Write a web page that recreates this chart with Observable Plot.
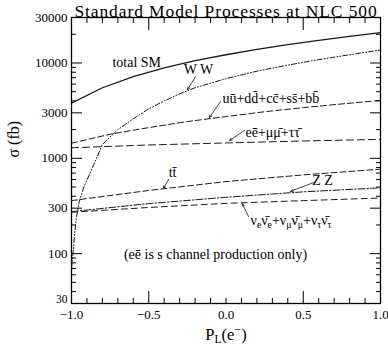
<!DOCTYPE html>
<html>
<head>
<meta charset="utf-8">
<script src="https://cdn.jsdelivr.net/npm/d3@7"></script>
<script src="https://cdn.jsdelivr.net/npm/@observablehq/plot@0.6"></script>
<style>
  html, body { margin: 0; padding: 0; background: #fff; }
</style>
</head>
<body>
<div id="chart"></div>
<script>
// ---------- text ----------
const titleText = "Standard Model Processes at NLC 500";
const yLabelText = "σ (fb)";
const xLabelPlain = "PL(e-)";

// ---------- ticks ----------
const yMajorTicks = [30, 100, 300, 1000, 3000, 10000, 30000];
const yMinorTicks = [40, 50, 60, 70, 80, 90, 200, 400, 500, 600, 700, 800, 900,
                     2000, 4000, 5000, 6000, 7000, 8000, 9000, 20000];
const xLabelTicks = [-1, -0.5, 0, 0.5, 1];
const xMajorTicks = [-0.5, 0.5];
const xMinorTicks = [-0.9, -0.8, -0.7, -0.6, -0.4, -0.3, -0.2, -0.1, 0, 0.1, 0.2, 0.3, 0.4, 0.6, 0.7, 0.8, 0.9];

// ---------- series (P_L(e-) , sigma in fb) ----------
const P_total = [-1, -0.8, -0.6, -0.4, -0.2, 0, 0.2, 0.4, 0.6, 0.8, 1];
const sigmaTotal = [3800, 5500, 7200, 8900, 10600, 12200, 13900, 15600, 17300, 19000, 20800];

const P_WW = [-1, -0.99, -0.98, -0.97, -0.95, -0.92, -0.88, -0.84, -0.8, -0.7, -0.6, -0.5, -0.4, -0.3, -0.2, 0, 0.2, 0.4, 0.6, 0.8, 1];
const sigmaWW = [70, 100, 160, 230, 350, 500, 700, 980, 1400, 2000, 2600, 3300, 4000, 4750, 5500, 6850, 8200, 9500, 10850, 12200, 13700];

const P_qq = [-1, -0.75, -0.5, -0.25, 0, 0.25, 0.5, 0.75, 1];
const sigmaQQ = [1440, 1790, 2100, 2430, 2740, 3080, 3400, 3720, 4050];

const P_few = [-1, -0.5, 0, 0.5, 1];
const sigmaLL = [1290, 1380, 1450, 1520, 1580];
const sigmaTT = [360, 460, 570, 670, 770];
const sigmaZZ = [276, 335, 390, 445, 490];
const sigmaNN = [272, 305, 337, 360, 383];

// ---------- annotations ----------
const qqLabel = "uū+dd\u0304+cc\u0304+ss\u0304+bb\u0304";
const llLabel = "ee\u0304+μμ\u0304+ττ\u0304";
const ttLabel = "tt\u0304";
const nuPlain = "NUNU";
const noteLabel = "(ee\u0304 is s channel production only)";

// labels written from their left end
const startText = ["total SM", qqLabel, llLabel, nuPlain];
const startP = [-0.735, -0.023, 0.126, 0.159];
const startSigma = [10100, 4240, 1860, 223];
// labels centred on their point
const midText = ["W W", ttLabel, "Z Z", noteLabel];
const midP = [-0.178, -0.346, 0.625, -0.068];
const midSigma = [8550, 711, 582, 97];

const arrowFromP = [-0.197, -0.036, 0.120, -0.372, 0.566, 0.146];
const arrowFromS = [7200, 3940, 1960, 600, 556, 245];
const arrowToP = [-0.249, -0.107, 0.023, -0.405, 0.418, 0.105];
const arrowToS = [5270, 2680, 1540, 484, 450, 334];

// ---------- build tables ----------
const tbl = (ps, ss) => ps.map((p, i) => ({P: p, s: ss[i]}));
const lbl = (ts, ps, ss) => ts.map((t, i) => ({t, P: ps[i], s: ss[i]}));
const arrows = arrowFromP.map((p, i) => ({x1: p, y1: arrowFromS[i], x2: arrowToP[i], y2: arrowToS[i]}));

const ink = "#1a1a1a";
const line = (ps, ss, dash, w = 1) =>
  Plot.line(tbl(ps, ss), {x: "P", y: "s", stroke: ink, strokeWidth: w, strokeDasharray: dash});

const plot = Plot.plot({
  width: 388,
  height: 346,
  marginLeft: 71,
  marginRight: 8,
  marginTop: 17,
  marginBottom: 43,
  style: {fontFamily: "'Liberation Serif', 'DejaVu Serif', serif", fontSize: "13px", background: "#fff", color: "#000"},
  x: {domain: [-1, 1]},
  y: {type: "log", domain: [30, 30000]},
  marks: [
    // y axis labels (the lowest one sits a little higher and smaller, as in the reference) and inward ticks
    Plot.text(yMajorTicks.slice(1), {y: d => d, frameAnchor: "left", textAnchor: "end", dx: -4, text: d => String(d), fontSize: 13, fill: "#000"}),
    Plot.text(yMajorTicks.slice(0, 1), {y: d => d, frameAnchor: "left", textAnchor: "end", dx: -4, dy: -4, text: d => String(d), fontSize: 11.5, fill: "#000"}),
    Plot.axisY(yMajorTicks, {anchor: "left", tickSize: -11, tickFormat: () => "", label: null}),
    Plot.axisY(yMinorTicks, {anchor: "left", tickSize: -5, tickFormat: () => "", label: null}),
    Plot.axisY(yMajorTicks, {anchor: "right", tickSize: -11, tickFormat: () => "", label: null}),
    Plot.axisY(yMinorTicks, {anchor: "right", tickSize: -5, tickFormat: () => "", label: null}),
    // x axes
    Plot.axisX(xLabelTicks, {anchor: "bottom", tickSize: 0, tickPadding: 6, tickFormat: d3.format(".1f"), label: null}),
    Plot.axisX(xMajorTicks, {anchor: "bottom", tickSize: -12, tickFormat: () => "", label: null}),
    Plot.axisX(xMinorTicks, {anchor: "bottom", tickSize: -5, tickFormat: () => "", label: null}),
    Plot.axisX(xMajorTicks, {anchor: "top", tickSize: -12, tickFormat: () => "", label: null}),
    Plot.axisX(xMinorTicks, {anchor: "top", tickSize: -5, tickFormat: () => "", label: null}),
    Plot.frame({stroke: "#000", strokeWidth: 1.3}),
    // curves
    line(P_total, sigmaTotal, null, 1.3),
    line(P_WW, sigmaWW, "5,2,1,2,1,2"),
    line(P_qq, sigmaQQ, "6,3"),
    line(P_few, sigmaLL, "7,4"),
    line(P_few, sigmaTT, "6,3"),
    line(P_few, sigmaZZ, "7,2,1.5,2"),
    line(P_few, sigmaNN, "6,4"),
    // annotations
    Plot.arrow(arrows, {x1: "x1", y1: "y1", x2: "x2", y2: "y2", stroke: ink, strokeWidth: 0.8, headLength: 5, headAngle: 50}),
    Plot.text(lbl(startText, startP, startSigma), {x: "P", y: "s", text: "t", textAnchor: "start", fontSize: 14, fill: "#000"}),
    Plot.text(lbl(midText, midP, midSigma), {x: "P", y: "s", text: "t", textAnchor: "middle", fontSize: 14, fill: "#000"}),
    // title & axis labels
    Plot.text([titleText], {frameAnchor: "top", dy: -1, lineAnchor: "bottom", fontSize: 17.5, fill: "#000"}),
    Plot.text([yLabelText], {frameAnchor: "left", dx: -58, dy: -3, rotate: -90, fontSize: 16, fill: "#000"}),
    Plot.text([xLabelPlain], {frameAnchor: "bottom", dy: 31, lineAnchor: "middle", fontSize: 16.5, fill: "#000"})
  ]
});

// rich text (sub/superscripts) for labels
function richText(root, plain, parts, base) {
  d3.select(root).selectAll("text").filter(function () { return this.textContent === plain; }).each(function () {
    const t = d3.select(this);
    t.text(null);
    let prev = 0;
    parts.forEach(([s, shift, scale]) => {
      t.append("tspan").attr("dy", shift - prev).attr("font-size", base * scale).text(s);
      prev = shift;
    });
    if (prev !== 0) t.append("tspan").attr("dy", -prev).text("");
  });
}
richText(plot, xLabelPlain, [["P", 0, 1], ["L", 3, 0.7], ["(e", 0, 1], ["\u2212", -6, 0.75], [")", 0, 1]], 16.5);
richText(plot, nuPlain, [
  ["ν", 0, 1], ["e", 3, 0.7], ["ν\u0304", 0, 1], ["e", 3, 0.7],
  ["+ν", 0, 1], ["μ", 3, 0.7], ["ν\u0304", 0, 1], ["μ", 3, 0.7],
  ["+ν", 0, 1], ["τ", 3, 0.7], ["ν\u0304", 0, 1], ["τ", 3, 0.7]
], 14);
// widen the title's letter spacing to the reference's span
d3.select(plot).selectAll("text").filter(function () { return this.textContent === titleText; })
  .attr("letter-spacing", "0.9px");

document.getElementById("chart").appendChild(plot);
</script>
</body>
</html>
